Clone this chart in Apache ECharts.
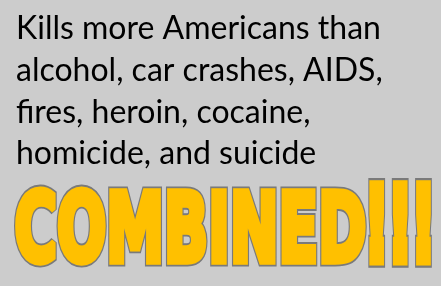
<!DOCTYPE html>
<html>
<head>
<meta charset="utf-8">
<script src="https://cdn.jsdelivr.net/npm/echarts@6/dist/echarts.min.js"></script>
<style>
    html, body { margin: 0; padding: 0; background: #cccccc; }
    #chart { width: 441px; height: 286px; }
</style>
</head>
<body>
<div id="chart"></div>
<script>
    // text content of the slide
    let lines = ['Kills more Americans than', 'alcohol, car crashes, AIDS,', 'fires, heroin, cocaine,', 'homicide, and suicide']
    let headline = 'COMBINED'
    let bang = '!!!'

    let bodyFont = '32px Lato'
    let bigFont = 'bold 60px "DejaVu Sans"'

    // measure relative to a 'middle' baseline, like zrender draws it
    function measure(text, font) {
        let ctx = document.createElement('canvas').getContext('2d')
        ctx.font = font
        ctx.textBaseline = 'middle'
        let m = ctx.measureText(text)
        return {
            w: m.actualBoundingBoxRight + m.actualBoundingBoxLeft,
            left: m.actualBoundingBoxLeft,
            up: m.actualBoundingBoxAscent,
            down: m.actualBoundingBoxDescent
        }
    }

    // fit a word into a box (left, capTop, right, baseline), outlined and emboldened
    function bigText(text, left, top, right, bottom, lw) {
        let m = measure(text, bigFont)
        let sx = (right - left) / (m.w + lw)
        let sy = (bottom - top) / (m.up + m.down + lw)
        let base = {
            type: 'text',
            x: left,
            y: top,
            scaleX: sx,
            scaleY: sy
        }
        let sx0 = m.left + lw / 2
        let sy0 = m.up + lw / 2
        return [
            Object.assign({}, base, {
                style: {
                    text: text, font: bigFont, x: sx0, y: sy0, verticalAlign: 'middle',
                    fill: '#7a7a7a', stroke: '#7a7a7a', lineWidth: lw, lineJoin: 'miter',
                    shadowBlur: 6, shadowColor: 'rgba(0,0,0,0.45)',
                    shadowOffsetX: 3, shadowOffsetY: 4
                }
            }),
            Object.assign({}, base, {
                style: {
                    text: text, font: bigFont, x: sx0, y: sy0, verticalAlign: 'middle',
                    fill: '#ffc000', stroke: '#ffc000', lineWidth: lw - 2.4, lineJoin: 'miter'
                }
            })
        ]
    }

    let chart = echarts.init(document.getElementById('chart'))
    let baselines = [37, 79, 121, 162]
    let elements = []
    for (let i = 0; i < lines.length; i++) {
        elements.push({
            type: 'text',
            x: 16,
            y: baselines[i] + 2 - measure('H', bodyFont).down,
            style: {
                text: lines[i],
                font: bodyFont,
                fill: '#000',
                verticalAlign: 'middle'
            }
        })
    }
    elements = elements.concat(bigText(headline, 13, 184, 367, 268, 7))
    elements = elements.concat(bigText(bang, 368, 176, 432, 268, 9))

    chart.setOption({
        backgroundColor: '#cccccc',
        graphic: { elements: elements }
    })
</script>
</body>
</html>
